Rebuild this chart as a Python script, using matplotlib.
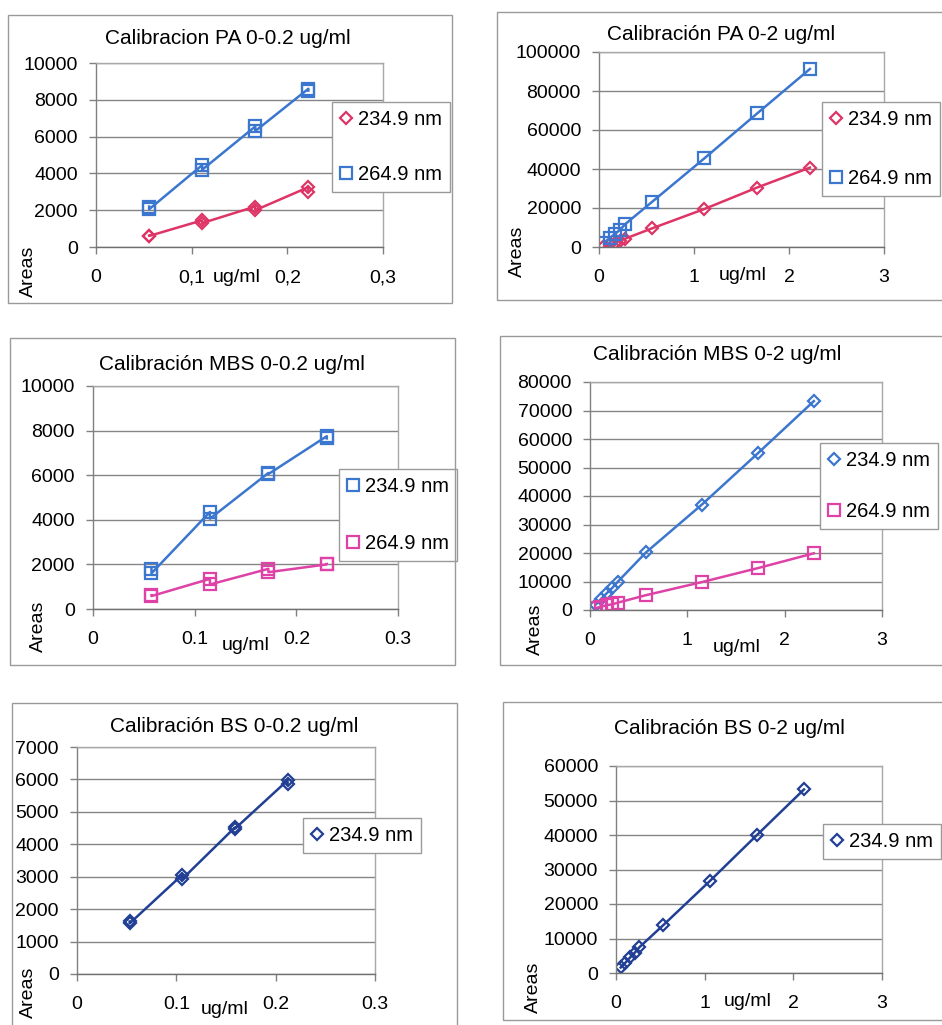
import matplotlib
matplotlib.use("Agg")
import matplotlib.pyplot as plt
from matplotlib.patches import Rectangle

plt.rcParams['font.family'] = ['Liberation Sans', 'DejaVu Sans']

W, H = 942, 1025

# ---- data ----
pa_lo_x = [0.0555, 0.0555, 0.111, 0.111, 0.1665, 0.1665, 0.222, 0.222]
pa_lo_2349 = [620, 600, 1450, 1300, 2200, 2000, 3250, 3000]
pa_lo_2649 = [2200, 2050, 4450, 4200, 6550, 6300, 8600, 8500]

pa_hi_x = [0.0555, 0.111, 0.1665, 0.222, 0.2775, 0.555, 1.11, 1.665, 2.22]
pa_hi_2349 = [650, 1400, 2100, 3100, 4300, 9500, 19500, 30500, 40700]
pa_hi_2649 = [2300, 4500, 6700, 8800, 11800, 23000, 45500, 68500, 91300]

mbs_lo_x = [0.0575, 0.0575, 0.115, 0.115, 0.1725, 0.1725, 0.23, 0.23]
mbs_lo_2349 = [1800, 1600, 4350, 4050, 6100, 6050, 7750, 7650]
mbs_lo_2649 = [620, 580, 1350, 1100, 1800, 1650, 2000, 2020]

mbs_hi_x = [0.0575, 0.115, 0.1725, 0.23, 0.2875, 0.575, 1.15, 1.725, 2.3]
mbs_hi_2349 = [1900, 3900, 5900, 7800, 10000, 20200, 37000, 55000, 73300]
mbs_hi_2649 = [600, 1200, 1700, 2000, 2600, 5200, 9800, 14700, 19900]

bs_lo_x = [0.053, 0.053, 0.106, 0.106, 0.159, 0.159, 0.212, 0.212]
bs_lo_2349 = [1620, 1560, 3060, 2930, 4520, 4480, 5970, 5850]

bs_hi_x = [0.053, 0.106, 0.159, 0.212, 0.265, 0.53, 1.06, 1.59, 2.12]
bs_hi_2349 = [1600, 3000, 4500, 5900, 7500, 13800, 26700, 40000, 53200]

lo_ticks = [0, 0.1, 0.2, 0.3]
lo_labels_comma = ["0", "0,1", "0,2", "0,3"]
lo_labels_dot = ["0", "0.1", "0.2", "0.3"]
hi_ticks = [0, 1, 2, 3]
hi_labels = ["0", "1", "2", "3"]

RED = '#DE3466'
BLUE = '#3B76CF'
MAGENTA = '#DE42A6'
NAVY = '#213F94'
FS = 14

fig = plt.figure(figsize=(W / 100, H / 100), dpi=100)


def fx(px):
    return px / W


def fy(py):
    return 1 - py / H


def panel(frame, rect, title, title_xy, ylim, ystep, xticks, xlabels,
          series, leg_xy, leg_space, areas_xy, ug_xy):
    # outer chart frame
    l, t, r, b = frame
    fig.patches.append(Rectangle((fx(l), fy(b)), fx(r - l), (b - t) / H,
                                 transform=fig.transFigure, fill=False,
                                 edgecolor='#9a9a9a', lw=1.0))
    l, t, r, b = rect
    ax = fig.add_axes([fx(l), fy(b), fx(r - l), (b - t) / H])
    for x, y, c, m, ms, lab in series:
        ax.plot(x, y, color=c, lw=1.8, marker=m, ms=ms, mfc='none',
                mec=c, mew=1.6, label=lab)
    ax.set_xlim(xticks[0], xticks[-1])
    ax.set_ylim(ylim)
    ax.set_xticks(xticks)
    ax.set_xticklabels(xlabels)
    yt = list(range(0, ylim[1] + 1, ystep))
    ax.set_yticks(yt)
    ax.set_yticklabels([str(v) for v in yt])
    ax.tick_params(axis='x', length=5, width=1, color='#808080',
                   pad=11, labelsize=FS)
    ax.tick_params(axis='y', length=5, width=1, color='#808080',
                   pad=8, labelsize=FS)
    ax.grid(axis='y', color='#858585', lw=1.0)
    ax.set_axisbelow(True)
    for s in ax.spines.values():
        s.set_color('#a8a8a8')
        s.set_linewidth(1.0)
    ax.spines['bottom'].set_color('#707070')
    ax.spines['left'].set_color('#808080')

    fig.text(fx(title_xy[0]), fy(title_xy[1]), title, ha='center',
             va='center', fontsize=FS + 1)
    fig.text(fx(areas_xy[0]), fy(areas_xy[1]), "Areas", rotation=90,
             ha='center', va='top', fontsize=FS)
    fig.text(fx(ug_xy[0]), fy(ug_xy[1]), "ug/ml", ha='center',
             va='center', fontsize=FS)

    leg = ax.legend(loc='upper left', bbox_to_anchor=(fx(leg_xy[0]), fy(leg_xy[1])),
                    bbox_transform=fig.transFigure, frameon=True,
                    fancybox=False, framealpha=1, edgecolor='#9a9a9a',
                    fontsize=FS + 0.5, borderpad=0.4, handlelength=0.6,
                    handletextpad=0.3, labelspacing=leg_space,
                    borderaxespad=0, numpoints=1)
    for h in leg.legend_handles:
        h.set_linestyle('none')
    leg.get_frame().set_linewidth(1.0)
    return ax


panel((8, 15, 452, 303), (96, 63, 383, 247), "Calibracion PA 0-0.2 ug/ml",
      (228, 38), (0, 10000), 2000, lo_ticks, lo_labels_comma,
      [(pa_lo_x, pa_lo_2349, RED, 'D', 6.5, '234.9 nm'),
       (pa_lo_x, pa_lo_2649, BLUE, 's', 8.5, '264.9 nm')],
      (332, 102), 1.8, (28, 246), (237, 277))

panel((497, 12, 960, 300), (599, 52, 884, 247), "Calibración PA 0-2 ug/ml",
      (721, 34), (0, 100000), 20000, hi_ticks, hi_labels,
      [(pa_hi_x, pa_hi_2349, RED, 'D', 6.5, '234.9 nm'),
       (pa_hi_x, pa_hi_2649, BLUE, 's', 8.5, '264.9 nm')],
      (822, 102), 2.0, (517, 226), (743, 275))

panel((10, 338, 455, 665), (93, 386, 398, 609), "Calibración MBS 0-0.2 ug/ml",
      (232, 364), (0, 10000), 2000, lo_ticks, lo_labels_dot,
      [(mbs_lo_x, mbs_lo_2349, BLUE, 's', 8.5, '234.9 nm'),
       (mbs_lo_x, mbs_lo_2649, MAGENTA, 's', 8.5, '264.9 nm')],
      (339, 469), 1.9, (38, 601), (246, 646))

panel((500, 336, 960, 665), (590, 382, 882, 610), "Calibración MBS 0-2 ug/ml",
      (717, 354), (0, 80000), 10000, hi_ticks, hi_labels,
      [(mbs_hi_x, mbs_hi_2349, BLUE, 'D', 6.5, '234.9 nm'),
       (mbs_hi_x, mbs_hi_2649, MAGENTA, 's', 8.5, '264.9 nm')],
      (820, 443), 1.6, (535, 604), (737, 647))

panel((12, 703, 457, 1040), (77, 747, 375, 974), "Calibración BS 0-0.2 ug/ml",
      (234, 727), (0, 7000), 1000, lo_ticks, lo_labels_dot,
      [(bs_lo_x, bs_lo_2349, NAVY, 'D', 6.5, '234.9 nm')],
      (303, 818), 1.0, (28, 967), (225, 1009))

panel((503, 702, 960, 1020), (616, 766, 882, 973), "Calibración BS 0-2 ug/ml",
      (729, 729), (0, 60000), 10000, hi_ticks, hi_labels,
      [(bs_hi_x, bs_hi_2349, NAVY, 'D', 6.5, '234.9 nm')],
      (823, 824), 1.0, (533, 962), (748, 1001))

fig.savefig("out.png", dpi=100)
